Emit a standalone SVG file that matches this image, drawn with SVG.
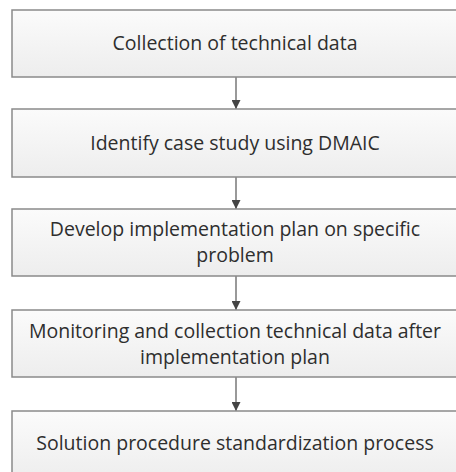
<svg xmlns="http://www.w3.org/2000/svg" width="456" height="472" viewBox="0 0 456 472">
<style>
.box{fill:url(#g);stroke:#8a8a8a;stroke-width:1.5}
.t{font-family:"Open Sans","Liberation Sans",sans-serif;font-size:19.5px;fill:#2e2e2e;text-anchor:middle}
.c{stroke:#555;stroke-width:1.2;fill:none;marker-end:url(#ah)}
</style>
<defs>
<linearGradient id="g" x1="0" y1="0" x2="0" y2="1">
<stop offset="0" stop-color="#fbfbfb"/>
<stop offset="1" stop-color="#ededed"/>
</linearGradient>
<marker id="ah" viewBox="0 0 10 10" refX="10" refY="5" markerWidth="9" markerHeight="9" markerUnits="userSpaceOnUse" orient="auto">
<path d="M0,0 L10,5 L0,10 z" fill="#444"/>
</marker>
</defs>
<g id="connectors">
<line class="c" x1="236" y1="77" x2="236" y2="109"/>
<line class="c" x1="236" y1="177" x2="236" y2="209"/>
<line class="c" x1="236" y1="276" x2="236" y2="310"/>
<line class="c" x1="236" y1="377" x2="236" y2="411"/>
</g>
<g id="n1">
<rect class="box" x="12" y="10" width="446" height="67"/>
<text class="t" x="235" y="50">Collection of technical data</text>
</g>
<g id="n2">
<rect class="box" x="12" y="109" width="446" height="68"/>
<text class="t" x="235" y="150">Identify case study using DMAIC</text>
</g>
<g id="n3">
<rect class="box" x="12" y="209" width="446" height="67"/>
<text class="t" x="235" y="236">Develop implementation plan on specific</text>
<text class="t" x="235" y="262">problem</text>
</g>
<g id="n4">
<rect class="box" x="12" y="310" width="446" height="67"/>
<text class="t" x="235" y="338">Monitoring and collection technical data after</text>
<text class="t" x="235" y="364">implementation plan</text>
</g>
<g id="n5">
<rect class="box" x="12" y="411" width="446" height="70"/>
<text class="t" x="235" y="450">Solution procedure standardization process</text>
</g>
</svg>
